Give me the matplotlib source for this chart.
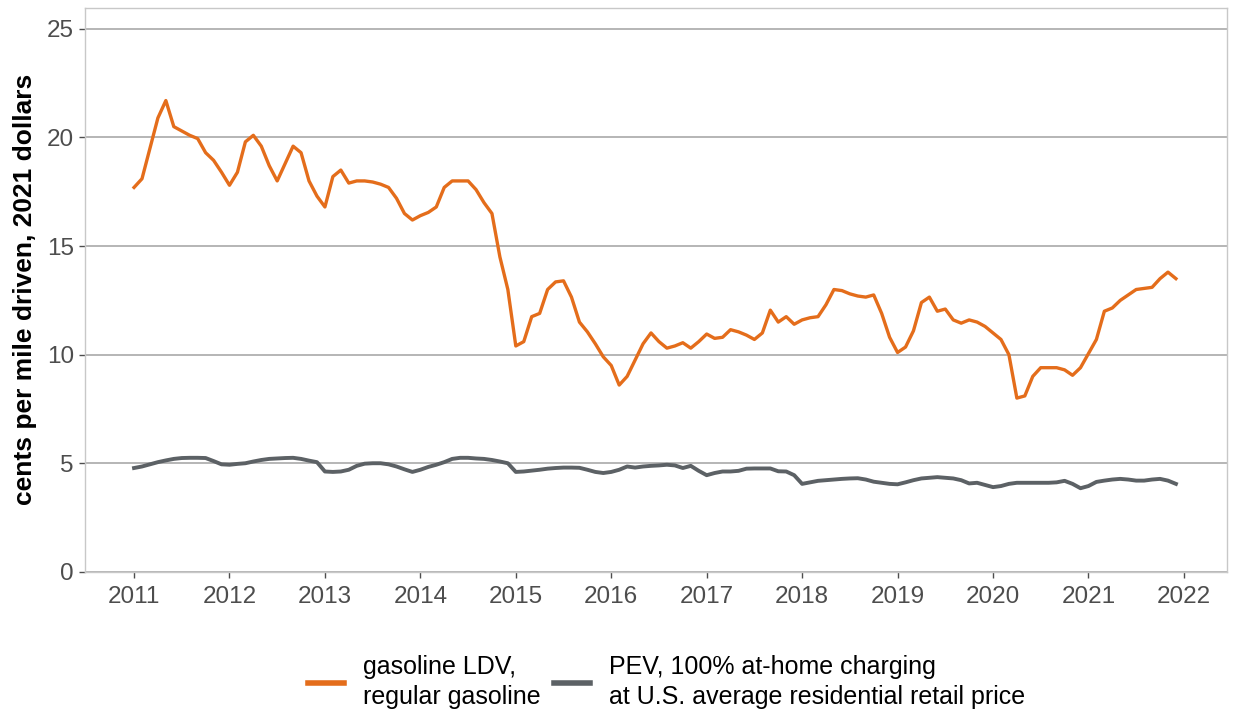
import numpy as np
import matplotlib
matplotlib.use("Agg")
import matplotlib.pyplot as plt

plt.rcParams['font.family'] = ['Liberation Sans', 'DejaVu Sans']

# monthly values, Jan 2011 - Dec 2021 (cents per mile, 2021 dollars)
start_year = 2011
gasoline = [
    17.7, 18.1, 19.5, 20.9, 21.7, 20.5, 20.3, 20.1, 19.95, 19.3, 18.95, 18.4,
    17.8, 18.4, 19.8, 20.1, 19.6, 18.7, 18.0, 18.8, 19.6, 19.3, 18.0, 17.3,
    16.8, 18.2, 18.5, 17.9, 18.0, 18.0, 17.95, 17.85, 17.7, 17.2, 16.5, 16.2,
    16.4, 16.55, 16.8, 17.7, 18.0, 18.0, 18.0, 17.6, 17.0, 16.5, 14.5, 13.0,
    10.4, 10.6, 11.75, 11.9, 13.0, 13.35, 13.4, 12.65, 11.5, 11.05, 10.5, 9.9,
    9.5, 8.6, 9.0, 9.75, 10.5, 11.0, 10.6, 10.3, 10.4, 10.55, 10.3, 10.6,
    10.95, 10.75, 10.8, 11.15, 11.05, 10.9, 10.7, 11.0, 12.05, 11.5, 11.75, 11.4,
    11.6, 11.7, 11.75, 12.3, 13.0, 12.95, 12.8, 12.7, 12.65, 12.75, 11.9, 10.8,
    10.1, 10.35, 11.1, 12.4, 12.65, 12.0, 12.1, 11.6, 11.45, 11.6, 11.5, 11.3,
    11.0, 10.7, 10.0, 8.0, 8.1, 9.0, 9.4, 9.4, 9.4, 9.3, 9.05, 9.4,
    10.05, 10.7, 12.0, 12.15, 12.5, 12.75, 13.0, 13.05, 13.1, 13.5, 13.8, 13.5,
]
pev = [
    4.78, 4.85, 4.95, 5.05, 5.13, 5.2, 5.24, 5.25, 5.25, 5.24, 5.1, 4.95,
    4.93, 4.97, 5.0, 5.08, 5.15, 5.2, 5.22, 5.24, 5.25, 5.2, 5.12, 5.05,
    4.62, 4.6, 4.62, 4.7, 4.88, 4.98, 5.0, 5.0, 4.95, 4.85, 4.72, 4.6,
    4.7, 4.83, 4.93, 5.05, 5.2, 5.25, 5.25, 5.22, 5.2, 5.15, 5.08, 5.0,
    4.6, 4.62, 4.66, 4.7, 4.75, 4.78, 4.8, 4.8, 4.79, 4.7, 4.6, 4.55,
    4.6, 4.7, 4.85, 4.8, 4.85, 4.88, 4.9, 4.93, 4.9, 4.78, 4.88, 4.65,
    4.45, 4.55, 4.62, 4.62, 4.65, 4.75, 4.76, 4.76, 4.76, 4.63, 4.62, 4.45,
    4.05, 4.12, 4.19, 4.22, 4.25, 4.28, 4.3, 4.31, 4.25, 4.15, 4.1, 4.05,
    4.03, 4.12, 4.22, 4.3, 4.33, 4.36, 4.33, 4.3, 4.22, 4.07, 4.1, 4.0,
    3.9, 3.95, 4.05, 4.1, 4.1, 4.1, 4.1, 4.1, 4.12, 4.19, 4.05, 3.85,
    3.95, 4.14, 4.2, 4.25, 4.28, 4.25, 4.2, 4.2, 4.25, 4.28, 4.2, 4.05,
]
years = list(range(2011, 2023))
yticks = [0, 5, 10, 15, 20, 25]
labels = ["gasoline LDV,\nregular gasoline",
          "PEV, 100% at-home charging\nat U.S. average residential retail price"]

t = start_year + np.arange(len(gasoline)) / 12.0

fig = plt.figure(figsize=(12.33, 7.13), dpi=100)
ax = fig.add_axes([0.069, 0.198, 0.926, 0.791])

ax.plot(t, gasoline, color="#E46D1B", lw=2.4, label=labels[0])
ax.plot(t, pev, color="#5C6165", lw=2.8, label=labels[1])

ax.set_xlim(2010.487, 2022.45)
ax.set_ylim(0, 25.97)
ax.set_xticks(years)
ax.set_yticks(yticks)
ax.tick_params(axis="both", labelsize=17.5, colors="#4d4d4d", length=4,
               width=1, labelcolor="#4d4d4d", pad=4)
ax.tick_params(axis="x", pad=6)
ax.grid(axis="y", color="#b5b5b5", lw=1.4)
ax.set_axisbelow(True)
for s in ax.spines.values():
    s.set_color("#c8c8c8")
    s.set_linewidth(1)

ax.set_ylabel("cents per mile driven, 2021 dollars", fontsize=19,
              fontweight="bold", labelpad=7)

leg = fig.legend(loc="center", bbox_to_anchor=(0.5405, 0.043), ncol=2,
                 frameon=False, fontsize=18, handlelength=1.45,
                 columnspacing=0.55, handletextpad=0.75, labelspacing=0.2)
for h in leg.get_lines():
    h.set_linewidth(4)
for txt in leg.get_texts():
    txt.set_linespacing(1.3)

fig.savefig("out.png", dpi=100)
